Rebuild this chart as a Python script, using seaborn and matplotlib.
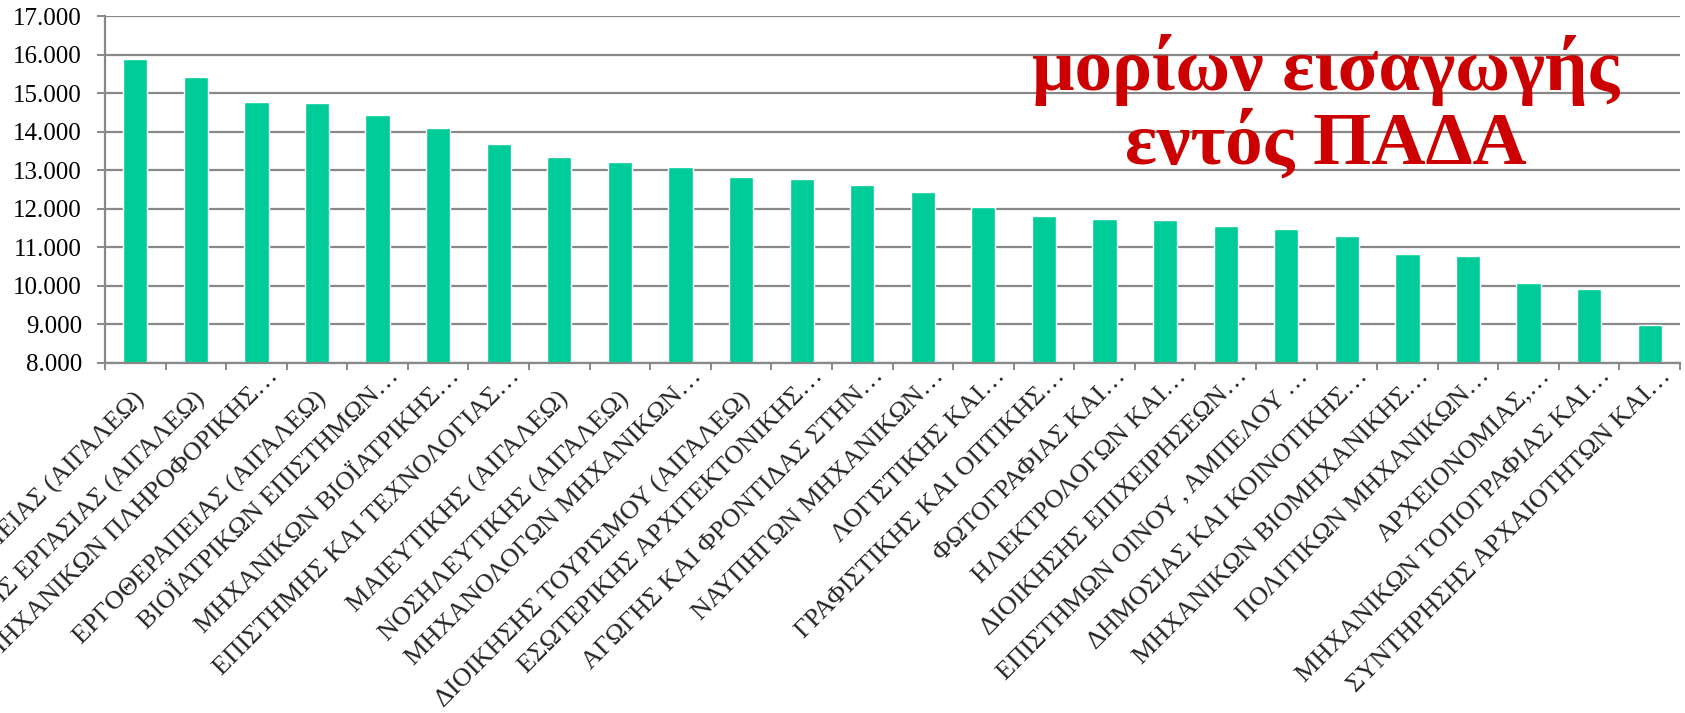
import matplotlib
matplotlib.use("Agg")
import matplotlib.pyplot as plt
import seaborn as sns
import pandas as pd
import numpy as np
from matplotlib.ticker import FuncFormatter, FixedLocator
from matplotlib.transforms import ScaledTranslation

# department names as shown on the axis (Excel truncates long ones with …)
departments = [
    "ΦΥΣΙΚΟΘΕΡΑΠΕΙΑΣ (ΑΙΓΑΛΕΩ)",
    "ΚΟΙΝΩΝΙΚΗΣ ΕΡΓΑΣΙΑΣ (ΑΙΓΑΛΕΩ)",
    "ΜΗΧΑΝΙΚΩΝ ΠΛΗΡΟΦΟΡΙΚΗΣ…",
    "ΕΡΓΟΘΕΡΑΠΕΙΑΣ (ΑΙΓΑΛΕΩ)",
    "ΒΙΟΪΑΤΡΙΚΩΝ ΕΠΙΣΤΗΜΩΝ…",
    "ΜΗΧΑΝΙΚΩΝ ΒΙΟΪΑΤΡΙΚΗΣ…",
    "ΕΠΙΣΤΗΜΗΣ ΚΑΙ ΤΕΧΝΟΛΟΓΙΑΣ…",
    "ΜΑΙΕΥΤΙΚΗΣ (ΑΙΓΑΛΕΩ)",
    "ΝΟΣΗΛΕΥΤΙΚΗΣ (ΑΙΓΑΛΕΩ)",
    "ΜΗΧΑΝΟΛΟΓΩΝ ΜΗΧΑΝΙΚΩΝ…",
    "ΔΙΟΙΚΗΣΗΣ ΤΟΥΡΙΣΜΟΥ (ΑΙΓΑΛΕΩ)",
    "ΕΣΩΤΕΡΙΚΗΣ ΑΡΧΙΤΕΚΤΟΝΙΚΗΣ…",
    "ΑΓΩΓΗΣ ΚΑΙ ΦΡΟΝΤΙΔΑΣ ΣΤΗΝ…",
    "ΝΑΥΠΗΓΩΝ ΜΗΧΑΝΙΚΩΝ…",
    "ΛΟΓΙΣΤΙΚΗΣ ΚΑΙ…",
    "ΓΡΑΦΙΣΤΙΚΗΣ ΚΑΙ ΟΠΤΙΚΗΣ…",
    "ΦΩΤΟΓΡΑΦΙΑΣ ΚΑΙ…",
    "ΗΛΕΚΤΡΟΛΟΓΩΝ ΚΑΙ…",
    "ΔΙΟΙΚΗΣΗΣ ΕΠΙΧΕΙΡΗΣΕΩΝ…",
    "ΕΠΙΣΤΗΜΩΝ ΟΙΝΟΥ , ΑΜΠΕΛΟΥ …",
    "ΔΗΜΟΣΙΑΣ ΚΑΙ ΚΟΙΝΟΤΙΚΗΣ…",
    "ΜΗΧΑΝΙΚΩΝ ΒΙΟΜΗΧΑΝΙΚΗΣ…",
    "ΠΟΛΙΤΙΚΩΝ ΜΗΧΑΝΙΚΩΝ…",
    "ΑΡΧΕΙΟΝΟΜΙΑΣ,…",
    "ΜΗΧΑΝΙΚΩΝ ΤΟΠΟΓΡΑΦΙΑΣ ΚΑΙ…",
    "ΣΥΝΤΗΡΗΣΗΣ ΑΡΧΑΙΟΤΗΤΩΝ ΚΑΙ…",
]
points = [15900, 15430, 14780, 14760, 14430, 14110, 13700, 13360, 13210,
          13080, 12840, 12770, 12630, 12450, 12050, 11830, 11740, 11720,
          11570, 11470, 11290, 10830, 10770, 10070, 9920, 8980]
yticks = [8000, 9000, 10000, 11000, 12000, 13000, 14000, 15000, 16000, 17000]
title = "μορίων εισαγωγής\nεντός ΠΑΔΑ"

sns.set_style("white")
plt.rcParams['font.family'] = ['Liberation Serif', 'DejaVu Serif']

W, H = 1685, 713
fig = plt.figure(figsize=(W/100, H/100), dpi=100)
ax = fig.add_axes([105/W, 1-363/H, (1680-105)/W, (363-16.5)/H])

df = pd.DataFrame({"dept": departments, "points": points})
sns.barplot(data=df, x="dept", y="points", color="#00CC99", saturation=1,
            width=0.4, ax=ax)

ax.set_ylim(yticks[0], yticks[-1])
ax.set_xlim(-0.5, len(departments)-0.5)
ax.yaxis.set_major_locator(FixedLocator(yticks))
ax.yaxis.set_major_formatter(FuncFormatter(lambda v, p: f"{v:,.0f}".replace(",", ".")))
ax.set_axisbelow(True)
ax.yaxis.grid(True, color="#888888", lw=1.6)
ax.set_xlabel("")
ax.set_ylabel("")

for s in ["top", "right"]:
    ax.spines[s].set_visible(False)
for s in ["left", "bottom"]:
    ax.spines[s].set_color("#888888")
    ax.spines[s].set_linewidth(1.6)

ax.tick_params(axis="y", direction="out", length=6, width=1.4, color="#888888",
               labelsize=18, labelcolor="black", left=True, pad=10.5)
ax.set_xticks(range(len(departments)))
ax.set_xticklabels(departments, rotation=45, ha="right", va="center",
                   rotation_mode="anchor", fontsize=19)
ax.tick_params(axis="x", which="major", length=0, pad=15)
ax.set_xticks(np.arange(-0.5, len(departments)), minor=True)
ax.tick_params(axis="x", which="minor", direction="out", length=5, width=1.4,
               color="#888888", bottom=True)

# Excel places the truncated (…) labels a bit higher/right than the full ones
for lab in ax.get_xticklabels():
    if lab.get_text().endswith("…"):
        dx, dy = 18, -11
    else:
        dx, dy = 6, 12
    lab.set_transform(lab.get_transform() +
                      ScaledTranslation(dx/100, -dy/100, fig.dpi_scale_trans))

fig.text(1326/W, 1-163/H, title, ha="center", va="baseline", fontsize=54,
         fontweight="bold", color="#CC0000", linespacing=1.05)

fig.savefig("out.png", dpi=100)
